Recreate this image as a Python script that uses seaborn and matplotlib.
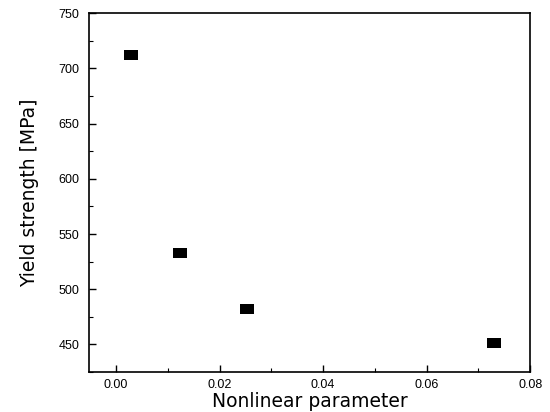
import matplotlib
matplotlib.use("Agg")
import matplotlib.pyplot as plt
import seaborn as sns
import pandas as pd
from matplotlib.ticker import MultipleLocator

# Data
nonlinear_param = [0.0028, 0.0124, 0.0253, 0.0730]
yield_strength = [712, 533, 482, 451]

sns.set_theme(style="ticks")
plt.rcParams["font.family"] = ["Liberation Sans", "DejaVu Sans"]

df = pd.DataFrame({"x": nonlinear_param, "y": yield_strength})

fig = plt.figure(figsize=(5.5, 4.12), dpi=100)
ax = fig.add_axes([0.162, 0.097, 0.802, 0.871])

# slightly wide filled rectangle like the original markers
rect = [(-1, -0.75), (1, -0.75), (1, 0.75), (-1, 0.75), (-1, -0.75)]
sns.scatterplot(data=df, x="x", y="y", ax=ax, marker=rect, s=95,
                color="black", edgecolor="black", linewidth=0)

ax.set_xlim(-0.0052, 0.08)
ax.set_ylim(425, 750)
ax.xaxis.set_major_locator(MultipleLocator(0.02))
ax.xaxis.set_minor_locator(MultipleLocator(0.01))
ax.yaxis.set_major_locator(MultipleLocator(50))
ax.yaxis.set_minor_locator(MultipleLocator(25))
ax.xaxis.set_major_formatter(plt.FuncFormatter(lambda v, p: f"{v:.2f}"))

ax.tick_params(which="both", direction="in", top=False, right=False,
               labelsize=9, colors="black")
ax.tick_params(axis="y", pad=7)
ax.tick_params(axis="x", pad=5)
ax.tick_params(which="major", length=5, width=1)
ax.tick_params(which="minor", length=3, width=0.8)
for s in ax.spines.values():
    s.set_linewidth(1.2)
    s.set_color("black")

ax.set_xlabel("Nonlinear parameter", fontsize=13.5, family="DejaVu Sans",
              color="black", labelpad=1)
ax.set_ylabel("Yield strength [MPa]", fontsize=13.5, family="DejaVu Sans",
              color="black", labelpad=14)

fig.savefig("out.png", dpi=100)
